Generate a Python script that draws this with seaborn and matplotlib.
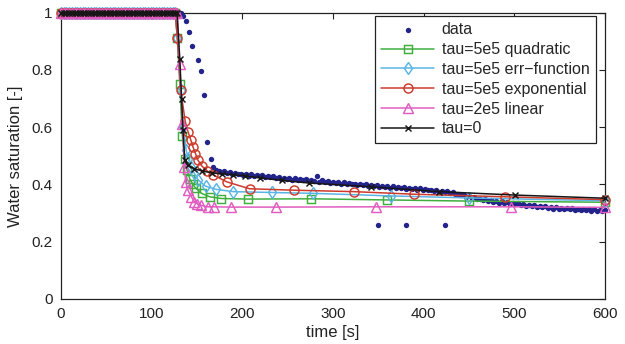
import numpy as np
import pandas as pd
import matplotlib
matplotlib.use("Agg")
import matplotlib.pyplot as plt
import seaborn as sns

# ---------------- data ----------------
# measured data (dots)
data_plateau_time = [0, 3, 6, 9, 12, 15, 18, 21, 24, 27, 30, 33, 36, 39, 42, 45, 48, 51, 54, 57,
                     60, 63, 66, 69, 72, 75, 78, 81, 84, 87, 90, 93, 96, 99, 102, 105, 108, 111,
                     114, 117, 120, 123, 126, 129, 132]
data_plateau_sat = [1, 1, 1, 1, 1, 1, 1, 1, 1, 1, 1, 1, 1, 1, 1, 1, 1, 1, 1, 1,
                    1, 1, 1, 1, 1, 1, 1, 1, 1, 1, 1, 1, 1, 1, 1, 1, 1, 1,
                    1, 1, 1, 1, 1, 1, 1]
data_drop_time = [135, 137.5, 141, 145, 151, 154, 157.5, 161.5, 165, 168]
data_drop_sat = [0.99, 0.97, 0.933, 0.884, 0.834, 0.796, 0.714, 0.549, 0.488, 0.462]
data_tail_sat = [
    .452, .446, .444, .447, .440, .443, .437, .441, .436, .438, .433, .437,
    .431, .435, .429, .433, .428, .432, .426, .430, .425, .428, .422, .427,
    .420, .424, .418, .422, .417, .421, .415, .419, .414, .418, .412, .416,
    .411, .431, .410, .414, .408, .412, .406, .410, .405, .408, .403, .407,
    .401, .405, .400, .403, .398, .402, .397, .400, .395, .399, .394, .397,
    .392, .396, .391, .394, .389, .393, .388, .391, .387, .390, .385, .389,
    .384, .387, .382, .386, .380, .384, .379, .382, .377, .380, .375, .378,
    .373, .376, .370, .372, .366, .368, .362, .364, .358, .360, .354, .355,
    .349, .350, .345, .348, .342, .345, .339, .343, .337, .341, .335, .339,
    .333, .337, .331, .334, .328, .332, .326, .330, .324, .328, .322, .326,
    .320, .324, .318, .322, .316, .321, .315, .319, .314, .318, .313, .317,
    .312, .316, .311, .315, .310, .314, .309, .313, .308, .312, .307, .311]
data_tail_time = list(range(171, 601, 3))
outlier_time = [350, 381, 423]
outlier_sat = [0.258, 0.258, 0.258]

# model curves: shared plateau at saturation 1
plateau_time = [0, 3, 6, 9, 12, 15, 18, 21, 24, 27, 30, 33, 36, 39, 42, 45, 48, 51, 54, 57,
                60, 63, 66, 69, 72, 75, 78, 81, 84, 87, 90, 93, 96, 99, 102, 105, 108, 111,
                114, 117, 120, 123, 126]
plateau_sat = [1, 1, 1, 1, 1, 1, 1, 1, 1, 1, 1, 1, 1, 1, 1, 1, 1, 1, 1, 1,
               1, 1, 1, 1, 1, 1, 1, 1, 1, 1, 1, 1, 1, 1, 1, 1, 1, 1,
               1, 1, 1, 1, 1]

quad_time = [128.4, 131, 133.8, 136.4, 139, 142, 145.5, 149, 155, 164, 177, 206, 276, 360, 450, 600]
quad_sat = [0.91, 0.75, 0.57, 0.49, 0.45, 0.42, 0.40, 0.386, 0.369, 0.357, 0.351, 0.349, 0.350, 0.346, 0.342, 0.338]

erf_time = [128.4, 132, 135, 138, 140.5, 143.7, 147, 151.6, 159.5, 171, 190, 233, 278, 364, 450, 600]
erf_sat = [0.91, 0.73, 0.60, 0.52, 0.49, 0.462, 0.439, 0.415, 0.394, 0.383, 0.375, 0.372, 0.369, 0.36, 0.353, 0.343]

exp_time = [128.4, 132, 137, 140, 143, 145.5, 148.3, 151, 155.5, 161, 168, 183, 208, 257, 323, 389, 490, 600]
exp_sat = [0.91, 0.73, 0.62, 0.585, 0.557, 0.532, 0.508, 0.485, 0.464, 0.448, 0.433, 0.409, 0.385, 0.38, 0.375, 0.366, 0.357, 0.347]

lin_time = [128, 131, 134, 136, 137.5, 140, 143.8, 147, 150.5, 154.7, 162, 169, 188, 237, 347, 496, 600]
lin_sat = [1.0, 0.82, 0.61, 0.46, 0.41, 0.38, 0.357, 0.34, 0.332, 0.327, 0.322, 0.322, 0.321, 0.321, 0.322, 0.322, 0.320]

tau0_time = [128, 131, 133, 134.5, 136.5, 140, 147, 156, 167, 178, 190, 203, 220, 244, 274, 342, 417, 501, 600]
tau0_sat = [1.0, 0.84, 0.70, 0.59, 0.485, 0.467, 0.455, 0.447, 0.44, 0.437, 0.434, 0.43, 0.423, 0.414, 0.405, 0.392, 0.375, 0.363, 0.352]

x_ticks = [0, 100, 200, 300, 400, 500, 600]
y_ticks = [0, 0.2, 0.4, 0.6, 0.8, 1]
y_tick_labels = ["0", "0.2", "0.4", "0.6", "0.8", "1"]

# ---------------- styling ----------------
sns.set_theme(style="white")
plt.rcParams["font.family"] = ["Liberation Sans", "DejaVu Sans"]
plt.rcParams["xtick.direction"] = "in"
plt.rcParams["ytick.direction"] = "in"

fig = plt.figure(figsize=(6.25, 3.44), dpi=100)
fig.patch.set_facecolor("white")
ax = fig.add_axes([61 / 625, 1 - 299 / 344, (605 - 61) / 625, (299 - 12.7) / 344])
ax.set_facecolor("white")

data_df = pd.DataFrame({
    "time": data_plateau_time + data_drop_time + data_tail_time + outlier_time,
    "sat": data_plateau_sat + data_drop_sat + data_tail_sat + outlier_sat,
})
sns.scatterplot(data=data_df, x="time", y="sat", ax=ax, color="#23238c", s=15,
                linewidth=0, label="data", zorder=2, clip_on=False)

series = [
    ("tau=5e5 quadratic", quad_time, quad_sat, "#3fae3f", "s", 6.0),
    ("tau=5e5 err\u2212function", erf_time, erf_sat, "#5ab4e4", "d", 6.2),
    ("tau=5e5 exponential", exp_time, exp_sat, "#cc3a2c", "o", 6.5),
    ("tau=2e5 linear", lin_time, lin_sat, "#e05cc0", "^", 6.5),
    ("tau=0", tau0_time, tau0_sat, "#161616", "x", 4.8),
]
for i, (lab, t, s, c, m, ms) in enumerate(series):
    df = pd.DataFrame({"time": plateau_time + t, "sat": plateau_sat + s})
    sns.lineplot(data=df, x="time", y="sat", ax=ax, color=c, linewidth=1.1,
                 marker=m, markersize=ms, markerfacecolor="none",
                 markeredgecolor=c, markeredgewidth=1.05, clip_on=False,
                 estimator=None, sort=False, label=lab, zorder=3 + i)

ax.set_xlim(0, 600)
ax.set_ylim(0, 1)
ax.set_xticks(x_ticks)
ax.set_yticks(y_ticks)
ax.set_yticklabels(y_tick_labels)
ax.tick_params(axis="both", which="both", direction="in", length=4, width=0.8,
               top=True, right=True, labelsize=11, pad=6, colors="#222222")
for sp in ax.spines.values():
    sp.set_visible(True)
    sp.set_color("#222222")
    sp.set_linewidth(0.9)
    sp.set_zorder(1)

ax.set_xlabel("time [s]", fontsize=12, labelpad=3, color="#222222")
ax.set_ylabel("Water saturation [-]", fontsize=12, labelpad=6, color="#222222")

leg = ax.legend(loc="upper right", bbox_to_anchor=(596 / 625, 1 - 16 / 344),
                bbox_transform=fig.transFigure, borderaxespad=0, fontsize=11.5,
                frameon=True, fancybox=False, edgecolor="#222222", framealpha=1,
                handlelength=3.3, handletextpad=0.5, labelspacing=0.3,
                borderpad=0.4, scatterpoints=1, markerscale=1.0)
leg.get_frame().set_linewidth(0.9)
leg.set_zorder(20)

fig.savefig("out.png", dpi=100, facecolor="white")
